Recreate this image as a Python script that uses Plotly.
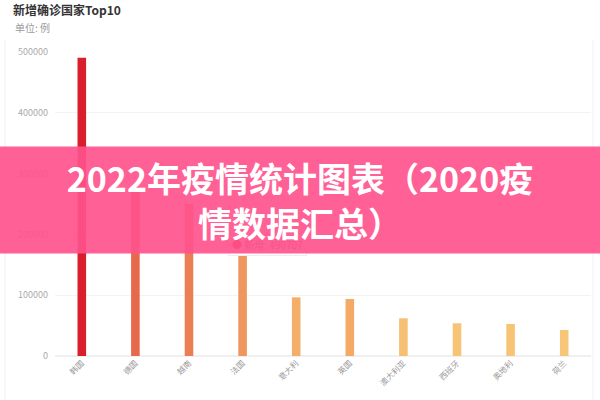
import plotly.graph_objects as go

countries = ['韩国', '德国', '越南', '法国', '意大利', '英国', '澳大利亚', '西班牙', '奥地利', '荷兰']
new_cases = [490707, 270000, 250000, 190000, 96500, 93700, 62000, 53800, 52600, 42800]
y_ticks = [0, 100000, 200000, 300000, 400000, 500000]

bar_colors = ['#d81f2b', '#e6694b', '#ea7f56', '#ef965f', '#f3af69',
              '#f2aa64', '#f6bf73', '#f7c375', '#f7c476', '#f8c678']

font_cjk = 'Noto Sans CJK SC'

fig = go.Figure(go.Bar(x=countries, y=new_cases,
                       marker=dict(color=bar_colors, line=dict(width=0)),
                       name='新增'))

fig.update_layout(
    width=600, height=400,
    margin=dict(l=55, r=9, t=52, b=44),
    paper_bgcolor='white', plot_bgcolor='white',
    font=dict(family=font_cjk, color='#999'),
    bargap=0.84,
    showlegend=False,
    title=dict(text='新增确诊国家Top10', x=13 / 600, xref='container', xanchor='left',
               y=1 - 11 / 400, yanchor='middle', pad=dict(l=0, t=0, b=0, r=0),
               font=dict(family=font_cjk, size=12, color='#333', weight='bold')),
    xaxis=dict(tickangle=-45, tickfont=dict(size=8, color='#999'), showgrid=False,
               showline=False, ticks='', automargin=False),
    yaxis=dict(range=[0, 500000], tickvals=y_ticks, ticktext=[str(v) for v in y_ticks],
               tickfont=dict(size=9, color='#aaa'), gridcolor='#f3f3f3', zeroline=True,
               zerolinecolor='#f0f0f0', ticks='', ticklabelstandoff=6, automargin=False),
)

def px_x(p):
    return (p - 55) / 536

def px_y(p):
    return (356 - p) / 304

# card borders
for xp in (5, 593):
    fig.add_shape(type='line', xref='paper', yref='paper', x0=px_x(xp), x1=px_x(xp),
                  y0=px_y(400), y1=px_y(40), line=dict(color='#f0f0f0', width=1))

fig.add_annotation(text='单位: 例', xref='paper', yref='paper', x=px_x(13), y=px_y(28),
                   xanchor='left', yanchor='middle', showarrow=False,
                   font=dict(size=10, color='#999'))

# tooltip (mostly hidden under the banner)
fig.add_annotation(text='<span style="color:#d81f2b">●</span> 新增: ' + str(new_cases[0]),
                   xref='paper', yref='paper', x=px_x(228), y=px_y(244),
                   xanchor='left', yanchor='middle', showarrow=False, align='left',
                   bgcolor='white', bordercolor='#eee', borderpad=3,
                   font=dict(size=10, color='#666'))

# banner
fig.add_annotation(text='<b>2022年疫情统计图表（2020疫<br>情数据汇总）</b>',
                   xref='paper', yref='paper', x=px_x(300), y=px_y(200),
                   xanchor='center', yanchor='middle', showarrow=False,
                   width=600, height=106, bgcolor='rgba(255,82,140,0.92)', borderpad=0,
                   font=dict(family=font_cjk, size=34, color='white'))

fig.write_html('out.html', config=dict(displayModeBar=False),
               post_script="document.body.style.margin='0';")
